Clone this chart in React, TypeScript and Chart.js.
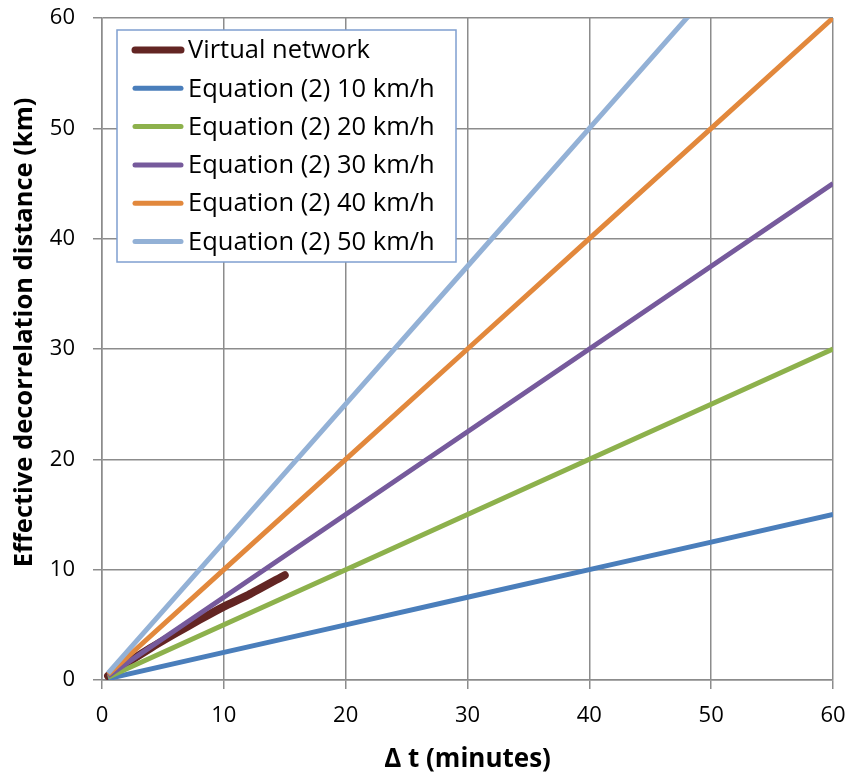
import React, { useEffect, useRef } from 'react';
import { Chart, registerables } from 'chart.js';

Chart.register(...registerables);

// Data
const dtMinutes = [0.5, 10, 20, 30, 40, 50, 60];
const virtualDt = [0.5, 2, 4, 6, 8, 10, 12, 15];
const virtualKm = [0.37, 1.5, 2.9, 4.2, 5.45, 6.65, 7.7, 9.5];
const eq10 = [0.125, 2.5, 5, 7.5, 10, 12.5, 15];
const eq20 = [0.25, 5, 10, 15, 20, 25, 30];
const eq30 = [0.375, 7.5, 15, 22.5, 30, 37.5, 45];
const eq40 = [0.5, 10, 20, 30, 40, 50, 60];
const eq50 = [0.625, 12.5, 25, 37.5, 50, 62.5, 75];
const seriesLabels = [
  'Virtual network',
  'Equation (2) 10 km/h',
  'Equation (2) 20 km/h',
  'Equation (2) 30 km/h',
  'Equation (2) 40 km/h',
  'Equation (2) 50 km/h',
];
const seriesColors = ['#632523', '#4a7ebb', '#8db14c', '#765a9c', '#e2883c', '#93b1d6'];

const FONT = '"Open Sans"';
const GRID = '#8c8c8c';

const toPts = (xs: number[], ys: number[]) => xs.map((x, i) => ({ x, y: ys[i] }));

const insideLegend = {
  id: 'insideLegend',
  afterDraw(chart: any) {
    const { ctx, chartArea } = chart;
    const x0 = chartArea.left + 15;
    const y0 = chartArea.top + 12;
    const w = 339;
    const h = 232;
    ctx.save();
    ctx.fillStyle = '#ffffff';
    ctx.fillRect(x0, y0, w, h);
    ctx.strokeStyle = '#7f9fd0';
    ctx.lineWidth = 1.5;
    ctx.strokeRect(x0, y0, w, h);
    chart.data.datasets.forEach((ds: any, i: number) => {
      const cy = y0 + 20 + i * 38.3;
      ctx.strokeStyle = ds.borderColor;
      ctx.lineWidth = i === 0 ? 7 : 5;
      ctx.lineCap = 'round';
      ctx.beginPath();
      ctx.moveTo(x0 + 18, cy);
      ctx.lineTo(x0 + 64, cy);
      ctx.stroke();
      ctx.fillStyle = '#000000';
      ctx.font = `25.5px ${FONT}`;
      ctx.textBaseline = 'middle';
      ctx.textAlign = 'left';
      ctx.fillText(ds.label, x0 + 71, cy + 1);
    });
    ctx.restore();
  },
};

const zeroPad = (scale: any) => {
  scale.paddingTop = 0;
  scale.paddingBottom = 0;
  scale.paddingLeft = 0;
  scale.paddingRight = 0;
};

export default function App() {
  const ref = useRef<HTMLCanvasElement | null>(null);
  useEffect(() => {
    if (!ref.current) return;
    const eqs = [eq10, eq20, eq30, eq40, eq50];
    const datasets: any[] = [
      {
        label: seriesLabels[0],
        data: toPts(virtualDt, virtualKm),
        borderColor: seriesColors[0],
        backgroundColor: seriesColors[0],
        borderWidth: 8,
        borderCapStyle: 'round',
        pointRadius: 0,
        tension: 0.2,
        clip: 0,
        order: 6,
      },
      ...eqs.map((ys, i) => ({
        label: seriesLabels[i + 1],
        data: toPts(dtMinutes, ys),
        borderColor: seriesColors[i + 1],
        backgroundColor: seriesColors[i + 1],
        borderWidth: 5,
        borderCapStyle: 'butt',
        pointRadius: 0,
        tension: 0,
        clip: 0,
        order: 5 - i,
      })),
    ];
    const chart = new Chart(ref.current, {
      type: 'line',
      data: { datasets },
      options: {
        animation: false,
        responsive: true,
        maintainAspectRatio: false,
        layout: { padding: { top: 18, right: 18, left: 0, bottom: 0 } },
        plugins: { legend: { display: false }, tooltip: { enabled: false } },
        scales: {
          x: {
            type: 'linear',
            min: 0,
            max: 60,
            ticks: { stepSize: 10, color: '#000', font: { family: FONT, size: 22 }, padding: 14, maxRotation: 0 },
            grid: { color: GRID, lineWidth: 1.5, tickLength: 9, tickColor: GRID },
            border: { color: GRID, width: 1.5 },
            title: {
              display: true,
              text: 'Δ t (minutes)',
              color: '#000',
              font: { family: FONT, size: 26, weight: 'bold' },
              padding: { top: 0, bottom: 3 },
            },
            afterFit(scale: any) {
              scale.height = 98;
              zeroPad(scale);
            },
          },
          y: {
            type: 'linear',
            min: 0,
            max: 60,
            ticks: { stepSize: 10, color: '#000', font: { family: FONT, size: 22 }, padding: 18 },
            grid: { color: GRID, lineWidth: 1.5, tickLength: 9, tickColor: GRID },
            border: { color: GRID, width: 1.5 },
            title: {
              display: true,
              text: '     Effective decorrelation distance (km)',
              color: '#000',
              font: { family: FONT, size: 25.5, weight: 'bold' },
              padding: { top: 9, bottom: 0 },
            },
            afterFit(scale: any) {
              scale.width = 102;
              zeroPad(scale);
            },
          },
        },
      },
      plugins: [insideLegend],
    });
    return () => chart.destroy();
  }, []);
  return (
    <div style={{ position: 'fixed', left: 0, top: 0, width: 851, height: 778, background: '#fff' }}>
      <canvas ref={ref} />
    </div>
  );
}
